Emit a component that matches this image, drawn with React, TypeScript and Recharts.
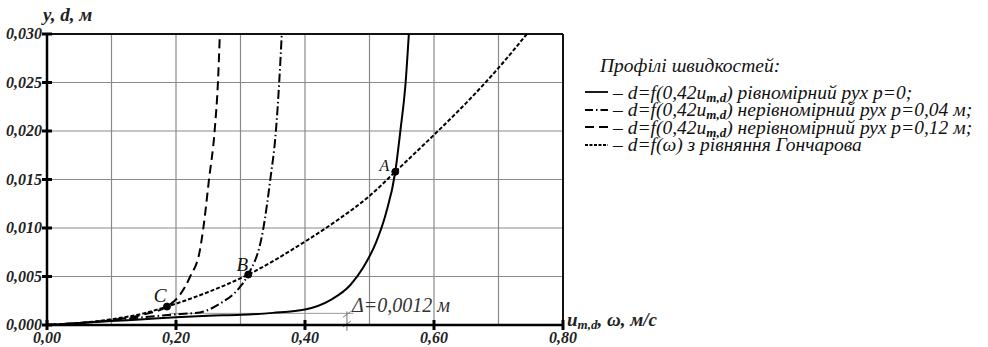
import { LineChart, Line, XAxis, YAxis, CartesianGrid, ReferenceLine, ReferenceDot } from 'recharts'

// u_m,d / ω, m/s
const uniformX = [0, 0.05, 0.1, 0.15, 0.2, 0.25, 0.3, 0.35, 0.4, 0.44, 0.47, 0.49, 0.51, 0.525, 0.54, 0.548, 0.556, 0.561]
const uniformY = [0, 0.0002, 0.0004, 0.0006, 0.0008, 0.00095, 0.00105, 0.00125, 0.0016, 0.0026, 0.0041, 0.0059, 0.0085, 0.0114, 0.0158, 0.0201, 0.025, 0.03]

const p004X = [0, 0.05, 0.1, 0.15, 0.2, 0.237, 0.268, 0.299, 0.312, 0.335, 0.346, 0.355, 0.36, 0.364]
const p004Y = [0, 0.0002, 0.0005, 0.0008, 0.0011, 0.0013, 0.0022, 0.0039, 0.0052, 0.0098, 0.0149, 0.0201, 0.025, 0.03]

const p012X = [0, 0.05, 0.1, 0.15, 0.186, 0.206, 0.222, 0.237, 0.242, 0.251, 0.26, 0.265, 0.268]
const p012Y = [0, 0.0002, 0.0005, 0.0011, 0.0019, 0.0031, 0.005, 0.0077, 0.0098, 0.0149, 0.0201, 0.025, 0.03]

const goncharovX = [0, 0.05, 0.1, 0.15, 0.186, 0.25, 0.312, 0.4, 0.45, 0.5, 0.54, 0.6, 0.65, 0.7, 0.744]
const goncharovY = [0, 0.0002, 0.0006, 0.0012, 0.0019, 0.0034, 0.0052, 0.0086, 0.0108, 0.0133, 0.0158, 0.0196, 0.0229, 0.0265, 0.03]

const xTicks = [0, 0.1, 0.2, 0.3, 0.4, 0.5, 0.6, 0.7, 0.8]
const yTicks = [0, 0.005, 0.01, 0.015, 0.02, 0.025, 0.03]

const points = [
  { name: 'A', x: 0.54, y: 0.0158, dx: -11, dy: -1, size: 16 },
  { name: 'B', x: 0.312, y: 0.0052, dx: -6, dy: -4, size: 19 },
  { name: 'C', x: 0.186, y: 0.0019, dx: -7, dy: -5, size: 19 },
]

const delta = 0.0012

const pts = (xs: number[], ys: number[]) => xs.map((x, i) => ({ x, y: ys[i] }))

const serif = 'Liberation Serif'

const tickFont = { fontFamily: serif, fontStyle: 'italic', fontWeight: 'bold', fontSize: 16 } as const

const XTick = (props: any) => {
  const { x, y, payload } = props
  const v = payload.value as number
  if (Math.round(v * 10) % 2 !== 0) return <g />
  return (
    <g>
      <line x1={x} x2={x} y1={y - 5} y2={y + 5} stroke="#000" strokeWidth={3} />
      <text x={x} y={y + 18} textAnchor="middle" style={tickFont} fill="#222">
        {v.toFixed(2).replace('.', ',')}
      </text>
    </g>
  )
}

const YTick = (props: any) => {
  const { x, y, payload } = props
  const v = payload.value as number
  return (
    <g>
      <line x1={x - 5} x2={x + 5} y1={y} y2={y} stroke="#000" strokeWidth={3} />
      <text x={x - 5} y={y + 5} textAnchor="end" style={tickFont} fill="#222">
        {v.toFixed(3).replace('.', ',')}
      </text>
    </g>
  )
}

const pointLabel = (name: string, dx: number, dy: number, size: number) => (props: any) => {
  const vb = props.viewBox
  const cx = vb.x + vb.width / 2
  const cy = vb.y + vb.height / 2
  return (
    <text x={cx + dx} y={cy + dy} textAnchor="middle" style={{ fontFamily: serif, fontStyle: 'italic', fontSize: size }} fill="#111">
      {name}
    </text>
  )
}

const Sub = ({ children }: { children: any }) => (
  <span style={{ fontSize: 13, verticalAlign: -3, fontWeight: 'bold', lineHeight: 0 }}>{children}</span>
)

const legendRows = [
  { dash: undefined, text: <>d=f(0,42u<Sub>m,d</Sub>) рівномірний рух p=0;</> },
  { dash: '8 3 1.5 3', text: <>d=f(0,42u<Sub>m,d</Sub>) нерівномірний рух p=0,04 м;</> },
  { dash: '9 5', text: <>d=f(0,42u<Sub>m,d</Sub>) нерівномірний рух p=0,12 м;</> },
  { dash: '3 1.5', text: <>d=f(ω) з рівняння Гончарова</> },
]

export default function App() {
  return (
    <div style={{ position: 'fixed', left: 0, top: 0, width: 988, height: 347, background: '#fff', fontFamily: serif }}>
      <LineChart width={988} height={347} margin={{ top: 34, right: 425, bottom: 0, left: 0 }}>
        <CartesianGrid stroke="#8a8a8a" strokeWidth={1.2} />
        <XAxis
          type="number"
          dataKey="x"
          domain={[0, 0.8]}
          ticks={xTicks}
          height={22}
          tickSize={0}
          tickMargin={0}
          tickLine={false}
          axisLine={{ stroke: '#000', strokeWidth: 2.5 }}
          tick={<XTick />}
          allowDuplicatedCategory={false}
        />
        <YAxis
          type="number"
          dataKey="y"
          domain={[0, 0.03]}
          ticks={yTicks}
          width={47}
          tickSize={0}
          tickMargin={0}
          tickLine={false}
          axisLine={{ stroke: '#000', strokeWidth: 2.5 }}
          tick={<YTick />}
        />
        <ReferenceLine y={0.03} stroke="#111" strokeWidth={2} />
        <ReferenceLine x={0.8} stroke="#111" strokeWidth={2} />
        <ReferenceLine
          segment={[{ x: 0.19, y: delta }, { x: 0.475, y: delta }]}
          stroke="#9a9a9a"
          strokeWidth={1}
        />
        <ReferenceLine
          segment={[{ x: 0.465, y: delta + 0.0002 }, { x: 0.465, y: -0.0006 }]}
          stroke="#777"
          strokeWidth={1}
          ifOverflow="visible"
        />
        <ReferenceLine
          segment={[{ x: 0.459, y: delta - 0.0004 }, { x: 0.471, y: delta + 0.0002 }]}
          stroke="#777"
          strokeWidth={1}
          ifOverflow="visible"
        />
        <ReferenceLine
          segment={[{ x: 0.459, y: -0.0002 }, { x: 0.471, y: 0.0004 }]}
          stroke="#777"
          strokeWidth={1}
          ifOverflow="visible"
        />
        <Line data={pts(uniformX, uniformY)} dataKey="y" type="monotone" stroke="#000" strokeWidth={2} dot={false} isAnimationActive={false} />
        <Line data={pts(p004X, p004Y)} dataKey="y" type="monotone" stroke="#000" strokeWidth={2} strokeDasharray="9 3 1.5 3" dot={false} isAnimationActive={false} />
        <Line data={pts(p012X, p012Y)} dataKey="y" type="monotone" stroke="#000" strokeWidth={2} strokeDasharray="9 5" dot={false} isAnimationActive={false} />
        <Line data={pts(goncharovX, goncharovY)} dataKey="y" type="monotone" stroke="#000" strokeWidth={2} strokeDasharray="4 2" dot={false} isAnimationActive={false} />
        {points.map(p => (
          <ReferenceDot key={p.name} x={p.x} y={p.y} r={3.5} fill="#000" stroke="#000" label={pointLabel(p.name, p.dx, p.dy, p.size)} />
        ))}
      </LineChart>

      <div style={{ position: 'absolute', left: 43, top: 4, fontStyle: 'italic', fontWeight: 'bold', fontSize: 19, color: '#222' }}>
        y, d, м
      </div>
      <div style={{ position: 'absolute', left: 567, top: 309, fontStyle: 'italic', fontWeight: 'bold', fontSize: 19, color: '#222', whiteSpace: 'nowrap' }}>
        u<Sub>m,d</Sub>, ω, м/с
      </div>
      <div style={{ position: 'absolute', left: 352, top: 294, fontStyle: 'italic', fontSize: 20, color: '#333', whiteSpace: 'nowrap' }}>
        Δ=0,0012 м
      </div>

      <div style={{ position: 'absolute', left: 585, top: 57, fontStyle: 'italic', fontSize: 19.5, color: '#111', lineHeight: '17.5px', whiteSpace: 'nowrap' }}>
        <div style={{ paddingLeft: 15, height: 17.5, marginBottom: 9 }}>Профілі швидкостей:</div>
        {legendRows.map((r, i) => (
          <div key={i} style={{ display: 'flex', alignItems: 'center', height: 17.5 }}>
            <svg width={23} height={10} style={{ marginRight: 5 }}>
              <line x1={0} x2={23} y1={5} y2={5} stroke="#000" strokeWidth={1.8} strokeDasharray={r.dash} />
            </svg>
            <span>– {r.text}</span>
          </div>
        ))}
      </div>
    </div>
  )
}
